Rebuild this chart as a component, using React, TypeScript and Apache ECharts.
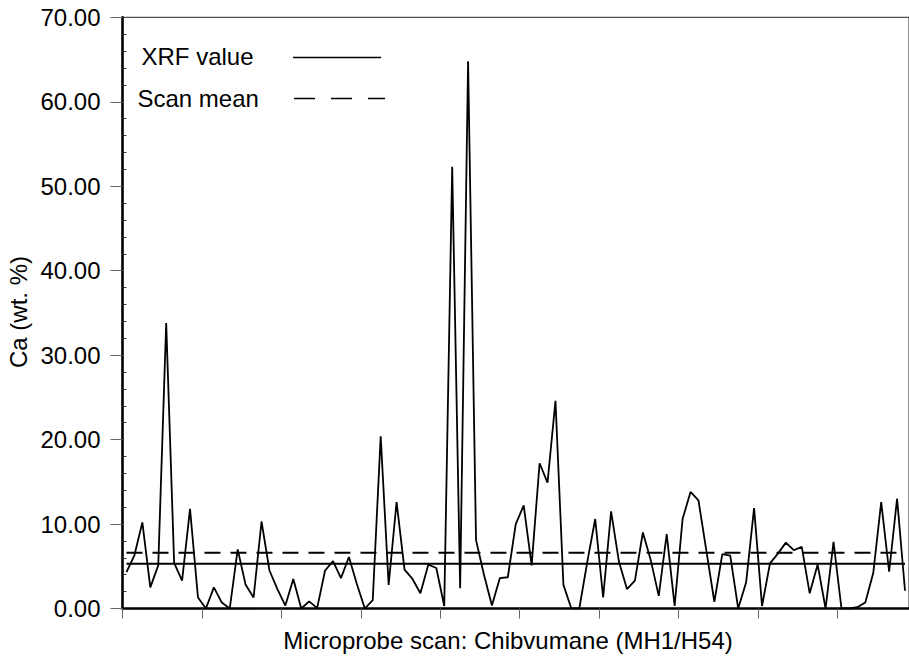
import React, { useEffect, useRef } from "react";
import * as echarts from "echarts";

// Microprobe scan of Ca along the Chibvumane profile (MH1/H54)
const caValues: number[] = [
  4.3, 6.3, 10.2, 2.5, 5.1, 33.8, 5.4, 3.3, 11.8, 1.3,
  0.0, 2.5, 0.7, 0.0, 7.0, 2.8, 1.3, 10.3, 4.5, 2.3,
  0.35, 3.5, 0.0, 0.85, 0.05, 4.5, 5.6, 3.6, 6.1, 2.9,
  0.0, 1.0, 20.4, 2.8, 12.6, 4.6, 3.5, 1.8, 5.2, 4.8,
  0.3, 52.3, 2.4, 64.8, 8.1, 4.0, 0.35, 3.6, 3.7, 10.0,
  12.2, 5.1, 17.2, 14.9, 24.6, 2.8, 0.0, 0.0, 5.5, 10.6,
  1.3, 11.5, 5.5, 2.3, 3.3, 9.0, 5.7, 1.5, 8.8, 0.3,
  10.6, 13.8, 12.8, 6.8, 0.8, 6.45, 6.25, 0.0, 3.1, 11.9,
  0.3, 5.35, 6.5, 7.8, 6.9, 7.3, 1.8, 5.2, 0.0, 7.9,
  0.0, 0.0, 0.15, 0.7, 4.2, 12.6, 4.35, 13.0, 2.1,
];

// Scan positions along the profile
const positions: string[] = caValues.map((_, i) => String(i + 1));

// Reference levels
const xrfValue = 5.3;
const scanMean = 6.6;

// Y axis ticks
const yMin = 0;
const yMax = 70;
const yStep = 10;

const seriesNames = ["XRF value", "Scan mean"];
const xAxisTitle = "Microprobe scan: Chibvumane (MH1/H54)";
const yAxisTitle = "Ca (wt. %)";

const FONT = "'Liberation Sans', Arial, sans-serif";

export default function App() {
  const ref = useRef<HTMLDivElement>(null);

  useEffect(() => {
    if (!ref.current) return;
    const chart = echarts.init(ref.current, undefined, { renderer: "svg" });

    const option: echarts.EChartsOption = {
      animation: false,
      backgroundColor: "#ffffff",
      grid: {
        left: 122.5,
        right: -1,
        top: 17.3,
        bottom: 53.5,
        show: true,
        borderColor: "#222",
        borderWidth: 1,
      },
      xAxis: {
        type: "category",
        data: positions,
        boundaryGap: true,
        axisLine: { show: true, lineStyle: { color: "#000", width: 2.6 } },
        axisTick: {
          show: true,
          interval: 9,
          length: 10,
          lineStyle: { color: "#666", width: 1 },
        },
        axisLabel: { show: false },
        splitLine: { show: false },
      },
      yAxis: [
        {
          type: "value",
          min: yMin,
          max: yMax,
          interval: yStep,
          axisLine: { show: true, lineStyle: { color: "#000", width: 2.6 } },
          axisTick: {
            show: true,
            length: 12,
            lineStyle: { color: "#666", width: 1 },
          },
          axisLabel: {
            margin: 22,
            fontFamily: FONT,
            fontSize: 24,
            color: "#000",
            formatter: (v: number) => v.toFixed(2),
          },
          splitLine: { show: false },
        },
        {
          // inner minor ticks along the left axis
          type: "value",
          position: "left",
          min: yMin,
          max: yMax,
          interval: yStep,
          axisLine: { show: false },
          axisTick: { show: false, inside: true },
          minorTick: {
            show: true,
            splitNumber: 5,
            length: 4,
            lineStyle: { color: "#333", width: 1 },
          },
          axisLabel: { show: false },
          splitLine: { show: false },
        },
      ],
      series: [
        {
          type: "line",
          name: "Ca",
          data: caValues,
          symbol: "none",
          lineStyle: { color: "#000", width: 1.8 },
          z: 3,
        },
        {
          type: "line",
          name: seriesNames[0],
          data: caValues.map(() => xrfValue),
          symbol: "none",
          lineStyle: { color: "#000", width: 2 },
          z: 2,
        },
        {
          type: "line",
          name: seriesNames[1],
          data: caValues.map(() => scanMean),
          symbol: "none",
          lineStyle: { color: "#000", width: 2, type: [16, 10] },
          z: 2,
        },
      ],
      graphic: [
        {
          type: "text",
          left: 141.5,
          top: 44,
          style: {
            text: seriesNames[0],
            fontFamily: FONT,
            fontSize: 24,
            fill: "#000",
          },
        },
        {
          type: "line",
          shape: { x1: 293, y1: 57.5, x2: 381, y2: 57.5 },
          style: { stroke: "#000", lineWidth: 1.5 },
        },
        {
          type: "text",
          left: 137.5,
          top: 86,
          style: {
            text: seriesNames[1],
            fontFamily: FONT,
            fontSize: 24,
            fill: "#000",
          },
        },
        {
          type: "line",
          shape: { x1: 294, y1: 98.5, x2: 385, y2: 98.5 },
          style: { stroke: "#000", lineWidth: 1.5, lineDash: [21, 16] },
        },
        {
          type: "text",
          x: 508,
          y: 640,
          style: {
            text: xAxisTitle,
            fontFamily: FONT,
            fontSize: 24,
            fill: "#000",
            align: "center",
            verticalAlign: "middle",
          },
        },
        {
          type: "text",
          x: 18,
          y: 312,
          rotation: Math.PI / 2,
          style: {
            text: yAxisTitle,
            fontFamily: FONT,
            fontSize: 24,
            fill: "#000",
            align: "center",
            verticalAlign: "middle",
          },
        },
      ],
    };

    chart.setOption(option);
    return () => chart.dispose();
  }, []);

  return (
    <div
      ref={ref}
      style={{ position: "fixed", left: 0, top: 0, width: 909, height: 662, background: "#fff" }}
    />
  );
}
